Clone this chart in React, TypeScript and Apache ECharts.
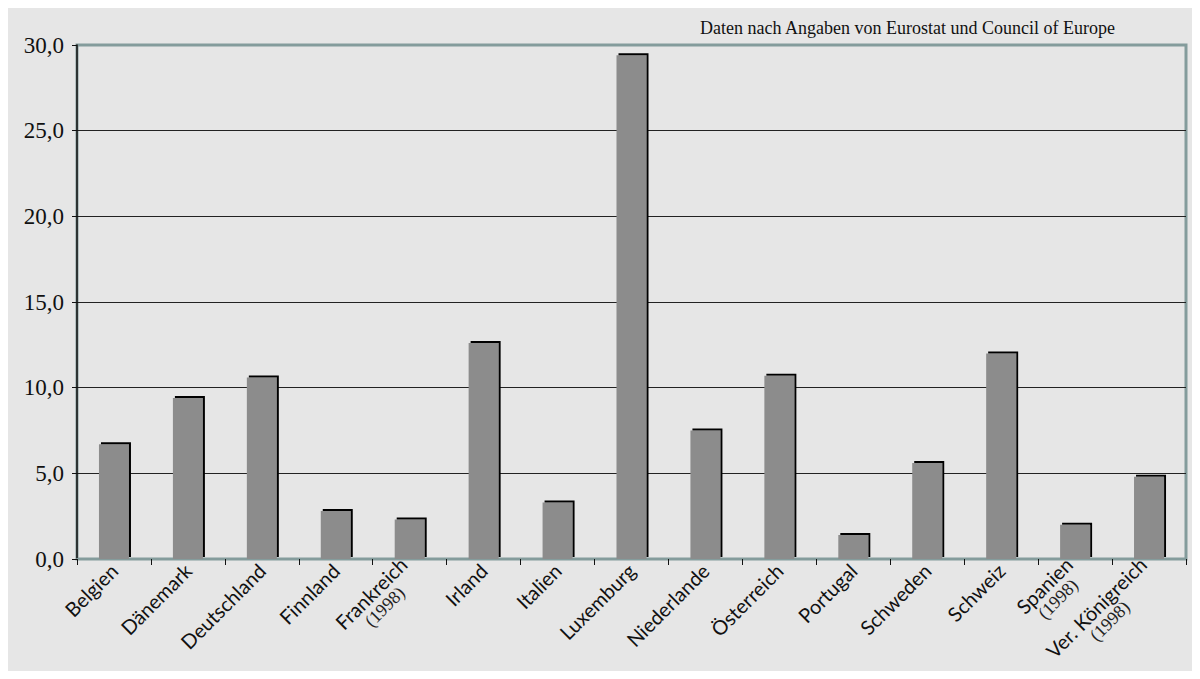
import React, { useEffect, useRef } from "react";
import * as echarts from "echarts";

const categories = [
  "Belgien", "Dänemark", "Deutschland", "Finnland", "Frankreich|(1998)", "Irland",
  "Italien", "Luxemburg", "Niederlande", "Österreich", "Portugal", "Schweden",
  "Schweiz", "Spanien|(1998)", "Ver. Königreich|(1998)",
];
const values = [6.7, 9.4, 10.6, 2.8, 2.3, 12.6, 3.3, 29.4, 7.5, 10.7, 1.4, 5.6, 12.0, 2.0, 4.8];
const sourceNote = "Daten nach Angaben von Eurostat und Council of Europe";

const TEAL = "#849c9c";

export default function App() {
  const ref = useRef<HTMLDivElement>(null);
  useEffect(() => {
    if (!ref.current) return;
    const chart = echarts.init(ref.current, null, { renderer: "svg" });
    chart.setOption({
      animation: false,
      backgroundColor: "#e6e6e6",
      graphic: [
        {
          type: "text",
          right: 76,
          top: 11,
          style: {
            text: sourceNote,
            font: '18px "Liberation Serif", serif',
            fill: "#111",
          },
        },
      ],
      grid: {
        left: 69,
        top: 37,
        right: 6,
        bottom: 112,
        outerBoundsMode: "none",
        containLabel: false,
        show: true,
        borderColor: TEAL,
        borderWidth: 3,
        backgroundColor: "transparent",
      },
      xAxis: {
        type: "category",
        data: categories,
        boundaryGap: true,
        axisLine: { show: true, lineStyle: { color: TEAL, width: 2 } },
        axisTick: { show: true, length: 6, lineStyle: { color: "#111", width: 1 } },
        axisLabel: {
          rotate: 45,
          interval: 0,
          margin: 8,
          color: "#111",
          fontFamily: "Lato, sans-serif",
          fontSize: 20,
          align: "right",
          formatter: (v: string) => {
            const parts = v.split("|");
            if (parts.length === 1) return `{a|${parts[0]}}`;
            return `{a|${parts[0]}}\n{b|${parts[1]}}`;
          },
          rich: {
            a: { fontFamily: "Lato, sans-serif", fontSize: 20, color: "#111", lineHeight: 21, align: "center" },
            b: { fontFamily: '"Liberation Serif", serif', fontSize: 18, color: "#222", lineHeight: 18, align: "center" },
          },
        },
      },
      yAxis: {
        type: "value",
        min: 0,
        max: 30,
        interval: 5,
        axisLine: { show: true, lineStyle: { color: "#111", width: 1.5 } },
        axisTick: { show: true, length: 5, lineStyle: { color: "#111" } },
        axisLabel: {
          margin: 13,
          color: "#111",
          fontFamily: '"Liberation Serif", serif',
          fontSize: 23,
          formatter: (v: number) => v.toFixed(1).replace(".", ","),
        },
        splitLine: {
          show: true,
          showMaxLine: false,
          lineStyle: { color: "#222", width: 1 },
        },
      },
      series: [
        {
          type: "bar",
          data: values,
          barWidth: 30,
          itemStyle: {
            color: "#8c8c8c",
            shadowColor: "#000",
            shadowBlur: 0,
            shadowOffsetX: 2,
            shadowOffsetY: -2,
          },
        },
      ],
    });
    return () => chart.dispose();
  }, []);
  return <div ref={ref} style={{ width: 1184, height: 663 }} />;
}
